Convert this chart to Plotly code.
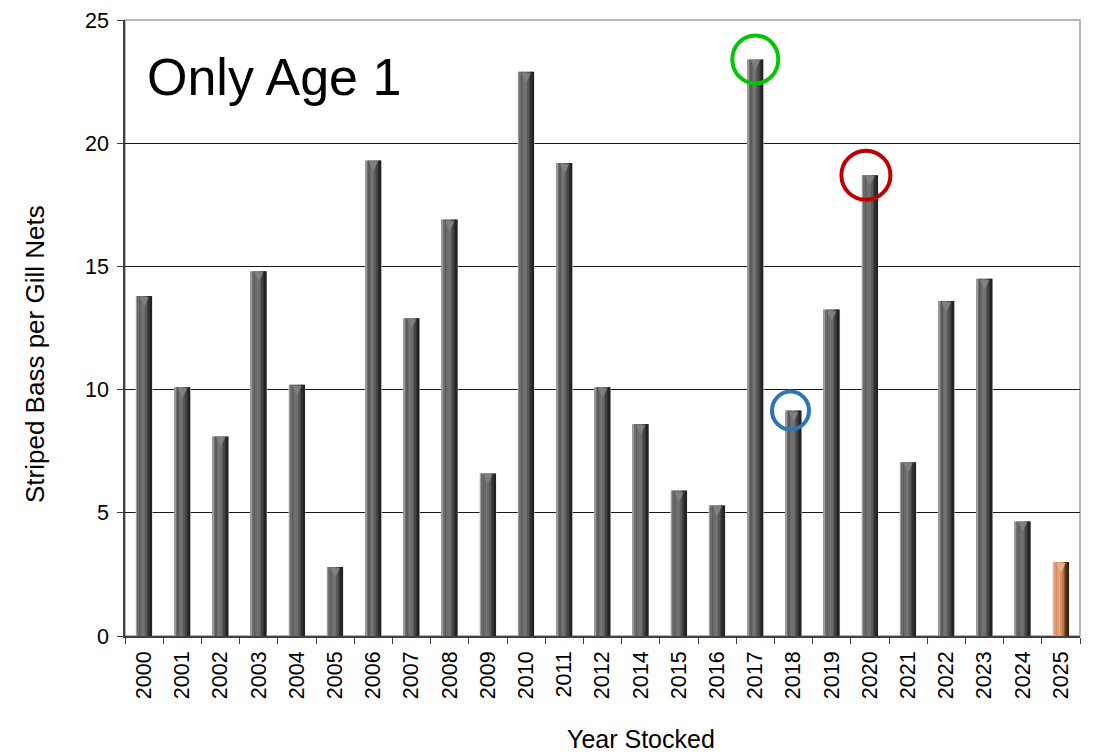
import plotly.graph_objects as go

years = ["2000", "2001", "2002", "2003", "2004", "2005", "2006", "2007", "2008",
         "2009", "2010", "2011", "2012", "2014", "2015", "2016", "2017", "2018",
         "2019", "2020", "2021", "2022", "2023", "2024", "2025"]
values = [13.8, 10.1, 8.1, 14.8, 10.2, 2.8, 19.3, 12.9, 16.9, 6.6, 22.9, 19.2,
          10.1, 8.6, 5.9, 5.3, 23.4, 9.15, 13.25, 18.7, 7.05, 13.6, 14.5, 4.65, 3.0]
y_ticks = [0, 5, 10, 15, 20, 25]
highlight_years = ["2017", "2018", "2020"]
highlight_colors = ["#00c800", "#2e75b6", "#c00000"]

FONT = "Liberation Sans, Arial, sans-serif"

gray_grad = ["#9a9a9a", "#6e6e6e", "#5c5c5c", "#6a6a6a", "#747474", "#6c6c6c",
             "#5a5a5a", "#444444", "#303030", "#222222"]
orange_grad = ["#f0b890", "#e09a6c", "#d48c5e", "#e2a070", "#e8a878", "#d89464",
               "#b87448", "#8a5430", "#5a3218", "#3a2010"]

fig = go.Figure()

total_w = 0.41
n = len(gray_grad)
w = total_w / n

# outline
fig.add_trace(go.Bar(
    x=years, y=values, width=total_w + 0.03, offset=-(total_w + 0.03) / 2,
    marker=dict(color="#cfcfcf", line=dict(width=0)), hoverinfo="skip", showlegend=False))

for i in range(n):
    cols = [orange_grad[i] if yr == "2025" else gray_grad[i] for yr in years]
    fig.add_trace(go.Bar(
        x=years, y=values, width=w + 0.002, offset=-total_w / 2 + i * w,
        marker=dict(color=cols, line=dict(width=0)),
        showlegend=False, hoverinfo="x+y" if i == 0 else "skip"))

# bevelled top (lighter triangle just inside each bar top)
fig.add_trace(go.Scatter(
    x=years, y=values, mode="text", text=["▼"] * len(years),
    textposition="bottom center",
    textfont=dict(family="DejaVu Sans", size=12,
                  color=["#e8b088" if yr == "2025" else "#808080" for yr in years]),
    hoverinfo="skip", showlegend=False))

# highlight circles
sizes = {"2017": (46, 48, 0), "2018": (37, 38, -3), "2020": (49, 49, -4)}
for yr, col in zip(highlight_years, highlight_colors):
    idx = years.index(yr)
    dx, dy, sh = sizes[yr]
    fig.add_shape(type="circle", xref="x", yref="y",
                  xsizemode="pixel", ysizemode="pixel",
                  xanchor=idx, yanchor=values[idx],
                  x0=sh - dx / 2, x1=sh + dx / 2, y0=-dy / 2, y1=dy / 2,
                  line=dict(color=col, width=4))

# plot border (top / right gray)
fig.add_shape(type="rect", xref="paper", yref="paper", x0=0, x1=1, y0=0, y1=1,
              line=dict(color="#a0a0a0", width=1.5), layer="below")

fig.add_annotation(text="Only Age 1", xref="paper", yref="paper", x=0, y=1,
                   xanchor="left", yanchor="top", xshift=20, yshift=-26,
                   showarrow=False, font=dict(family=FONT, size=52, color="#000"))

fig.add_annotation(text="Striped Bass per Gill Nets", xref="paper", yref="paper",
                   x=0, y=0.5, xanchor="center", yanchor="middle", xshift=-90,
                   yshift=-26, textangle=-90, showarrow=False,
                   font=dict(family=FONT, size=26, color="#000"))

fig.add_annotation(text="Year Stocked", xref="paper", yref="paper",
                   x=0.54, y=0, xanchor="center", yanchor="middle", yshift=-103,
                   showarrow=False, font=dict(family=FONT, size=25, color="#000"))

fig.update_layout(
    width=1086, height=746,
    margin=dict(l=117, r=14, t=12, b=118, autoexpand=False),
    paper_bgcolor="white", plot_bgcolor="white",
    barmode="overlay", bargap=0.6,
    font=dict(family=FONT, size=21, color="#000"),
    showlegend=False,
)
fig.update_xaxes(type="category", categoryorder="array", categoryarray=years,
                 tickangle=-90, ticks="outside", ticklen=6, tickcolor="#404040",
                 tickson="boundaries", showline=True, linecolor="#404040", linewidth=1.5,
                 showgrid=False, automargin=False, ticklabelstandoff=5,
                 tickfont=dict(family=FONT, size=21.5, color="#000"),
                 range=[-0.5, len(years) - 0.5])
fig.update_yaxes(range=[0, 25], tickvals=y_ticks, ticks="outside", ticklen=6,
                 tickcolor="#404040", showline=True, linecolor="#404040", linewidth=1.5,
                 showgrid=True, gridcolor="#1a1a1a", gridwidth=1, automargin=False,
                 ticklabelstandoff=4,
                 zeroline=False, tickfont=dict(family=FONT, size=21.5, color="#000"))

fig.write_html("out.html")
